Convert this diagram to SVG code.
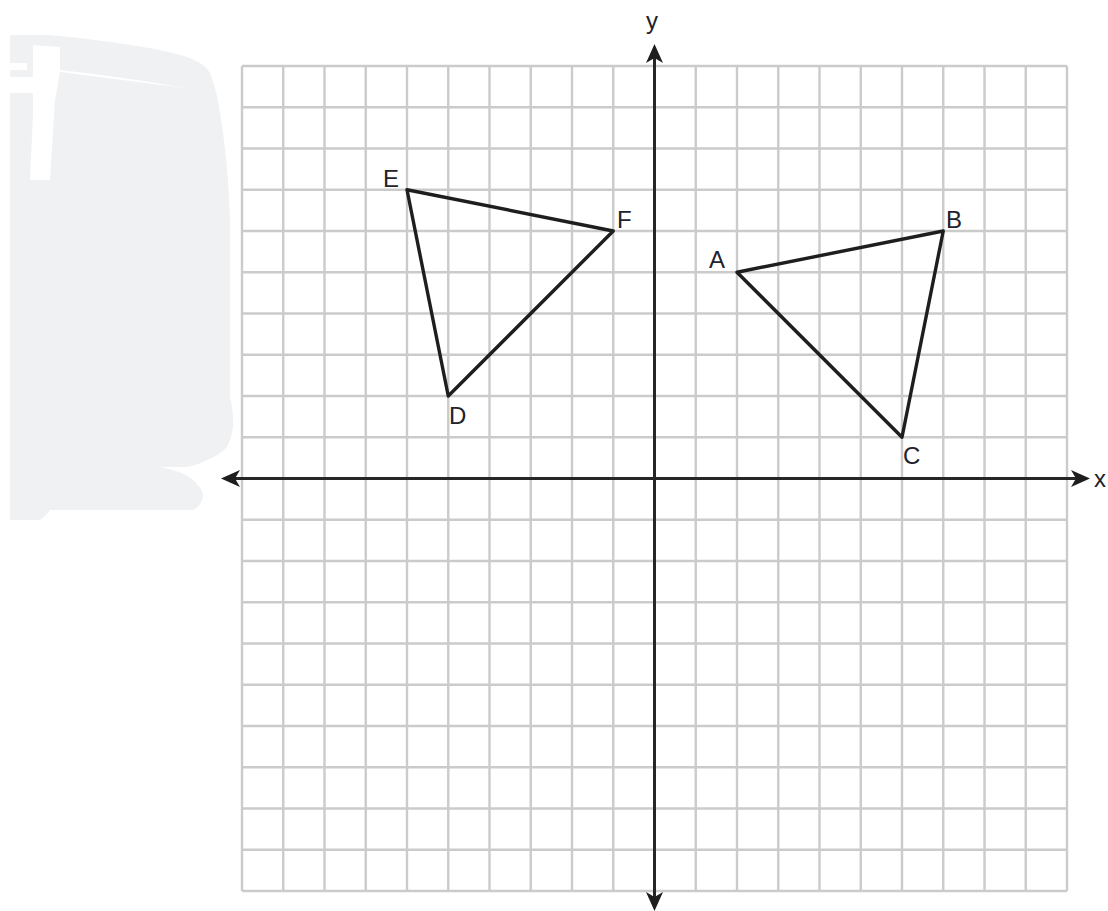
<svg xmlns="http://www.w3.org/2000/svg" width="1108" height="911" viewBox="0 0 1108 911">
<style>
.grid{stroke:#cbcbcb;stroke-width:2.4;fill:none}
.axis{stroke:#262626;stroke-width:3;fill:none}
.tri{stroke:#1e1e1e;stroke-width:3.4;fill:none;stroke-linejoin:round}
.lbl{font-family:"Liberation Sans",Arial,sans-serif;font-size:24px;fill:#22222c}
.head{fill:#1e1e1e}
</style>
<rect width="1108" height="911" fill="#ffffff"/>
<g id="smudge">
<path d="M10,35 L50,35 Q150,45 187,57 Q205,63 210,73 Q218,95 220,113 Q228,160 230,220 L230,397 Q234,415 233,427 Q231,440 227,447 Q218,456 207,460 Q195,466 187,467 L160,467 Q185,472 193,480 Q204,490 203,497 Q201,506 193,510 L50,510 Q45,517 40,520 L10,520 Z" fill="#f0f1f2"/>
<path d="M33,45 L60,47 L60,70 Q130,78 185,88 L60,72 L55,100 L50,180 L30,180 L33,115 Z" fill="#ffffff"/>
<path d="M10,63 L27,63 L27,70 L10,70 Z M10,77 L36,77 L36,93 L10,93 Z" fill="#ffffff"/>
</g>
<g id="grid" class="grid">
<path d="M242,66V891M283.25,66V891M324.5,66V891M365.75,66V891M407,66V891M448.25,66V891M489.5,66V891M530.75,66V891M572,66V891M613.25,66V891M695.75,66V891M737,66V891M778.25,66V891M819.5,66V891M860.75,66V891M902,66V891M943.25,66V891M984.5,66V891M1025.75,66V891M1067,66V891"/>
<path d="M242,66H1067M242,107.25H1067M242,148.5H1067M242,189.75H1067M242,231H1067M242,272.25H1067M242,313.5H1067M242,354.75H1067M242,396H1067M242,437.25H1067M242,519.75H1067M242,561H1067M242,602.25H1067M242,643.5H1067M242,684.75H1067M242,726H1067M242,767.25H1067M242,808.5H1067M242,849.75H1067M242,891H1067"/>
</g>
<g id="axes">
<path class="axis" d="M232,478.5H1080M654.5,56V900"/>
<path class="head" d="M1090,478.5 L1071,470 L1076,478.5 L1071,487 Z"/>
<path class="head" d="M221,478.5 L240,470 L235,478.5 L240,487 Z"/>
<path class="head" d="M654.5,44 L646,63 L654.5,58 L663,63 Z"/>
<path class="head" d="M654.5,911 L646,892 L654.5,897 L663,892 Z"/>
<text class="lbl" x="1094" y="487">x</text>
<text class="lbl" x="646" y="29">y</text>
</g>
<g id="triangle-ABC">
<path class="tri" d="M737,272.25 L943.25,231 L902,437.25 Z"/>
<text class="lbl" x="709" y="268">A</text>
<text class="lbl" x="946" y="228">B</text>
<text class="lbl" x="903" y="464">C</text>
</g>
<g id="triangle-DEF">
<path class="tri" d="M448.25,396 L407,189.75 L613.25,231 Z"/>
<text class="lbl" x="449" y="424">D</text>
<text class="lbl" x="383" y="187">E</text>
<text class="lbl" x="617" y="228">F</text>
</g>
</svg>
